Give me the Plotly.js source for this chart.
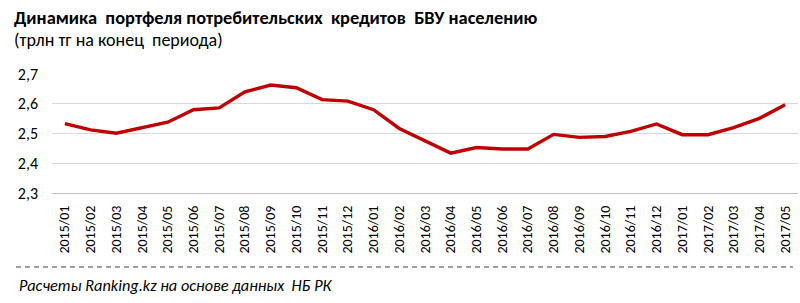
<!DOCTYPE html>
<html>
<head>
<meta charset="utf-8">
<script src="https://cdn.plot.ly/plotly-3.0.1.min.js"></script>
<style>html,body{margin:0;padding:0;background:#fff;}#chart{width:800px;height:303px;}</style>
</head>
<body>
<div id="chart"></div>
<script>
const months = ["2015/01","2015/02","2015/03","2015/04","2015/05","2015/06","2015/07","2015/08","2015/09","2015/10","2015/11","2015/12",
"2016/01","2016/02","2016/03","2016/04","2016/05","2016/06","2016/07","2016/08","2016/09","2016/10","2016/11","2016/12",
"2017/01","2017/02","2017/03","2017/04","2017/05"];
const portfolio = [2.533,2.512,2.501,2.520,2.538,2.580,2.586,2.640,2.663,2.654,2.614,2.609,
2.580,2.517,2.475,2.434,2.453,2.448,2.448,2.497,2.487,2.490,2.507,2.532,
2.496,2.496,2.520,2.551,2.597];
const yTicks = [2.3,2.4,2.5,2.6,2.7];
const titleText = "<b>Динамика  портфеля потребительских  кредитов  БВУ населению</b>";
const subtitleText = "(трлн тг на конец  периода)";
const sourceText = "<i>Расчеты Ranking.kz на основе данных  НБ РК</i>";

const FONT = "Carlito, Lato, sans-serif";
const data = [{
  type: "scatter", mode: "lines", x: months, y: portfolio,
  line: {color: "#c00000", width: 3.4, shape: "linear"},
  hoverinfo: "skip"
}];
const PW = 746, PH = 119;
const layout = {
  width: 800, height: 303,
  margin: {l: 52, r: 2, t: 74, b: 110},
  paper_bgcolor: "#fff", plot_bgcolor: "#fff",
  separators: ", ",
  showlegend: false,
  font: {family: FONT, color: "#000", size: 14},
  xaxis: {
    type: "category", range: [-0.5, months.length - 0.5],
    showgrid: false, zeroline: false,
    showline: true, linecolor: "#bfbfbf", linewidth: 1,
    tickangle: -90, tickfont: {size: 14, family: FONT, color: "#000"},
    ticks: "", ticklabelstandoff: 6
  },
  yaxis: {
    range: [2.3, 2.7], tickvals: yTicks, tickformat: ".1f",
    showgrid: true, gridcolor: "#d9d9d9", gridwidth: 1,
    zeroline: false, showline: false, ticks: "",
    tickfont: {size: 16, family: FONT, color: "#000"},
    ticklabelstandoff: 13
  },
  annotations: [
    {text: titleText, xref: "paper", yref: "paper", x: -40/PW, y: 1, yshift: 57, xanchor: "left", yanchor: "middle", showarrow: false, font: {size: 18.4, family: FONT, color: "#000"}},
    {text: subtitleText, xref: "paper", yref: "paper", x: -40/PW, y: 1, yshift: 34, xanchor: "left", yanchor: "middle", showarrow: false, font: {size: 18, family: FONT, color: "#000"}},
    {text: sourceText, xref: "paper", yref: "paper", x: -35/PW, y: 0, yshift: -92, xanchor: "left", yanchor: "middle", showarrow: false, font: {size: 16.3, family: FONT, color: "#000"}}
  ],
  shapes: [
    {type: "line", xref: "paper", yref: "paper", x0: -36/PW, x1: 741/PW, y0: -74/PH, y1: -74/PH,
     line: {color: "#404040", width: 1.2, dash: "5px,4px"}}
  ]
};
Plotly.newPlot("chart", data, layout, {staticPlot: true, displayModeBar: false});
</script>
</body>
</html>
